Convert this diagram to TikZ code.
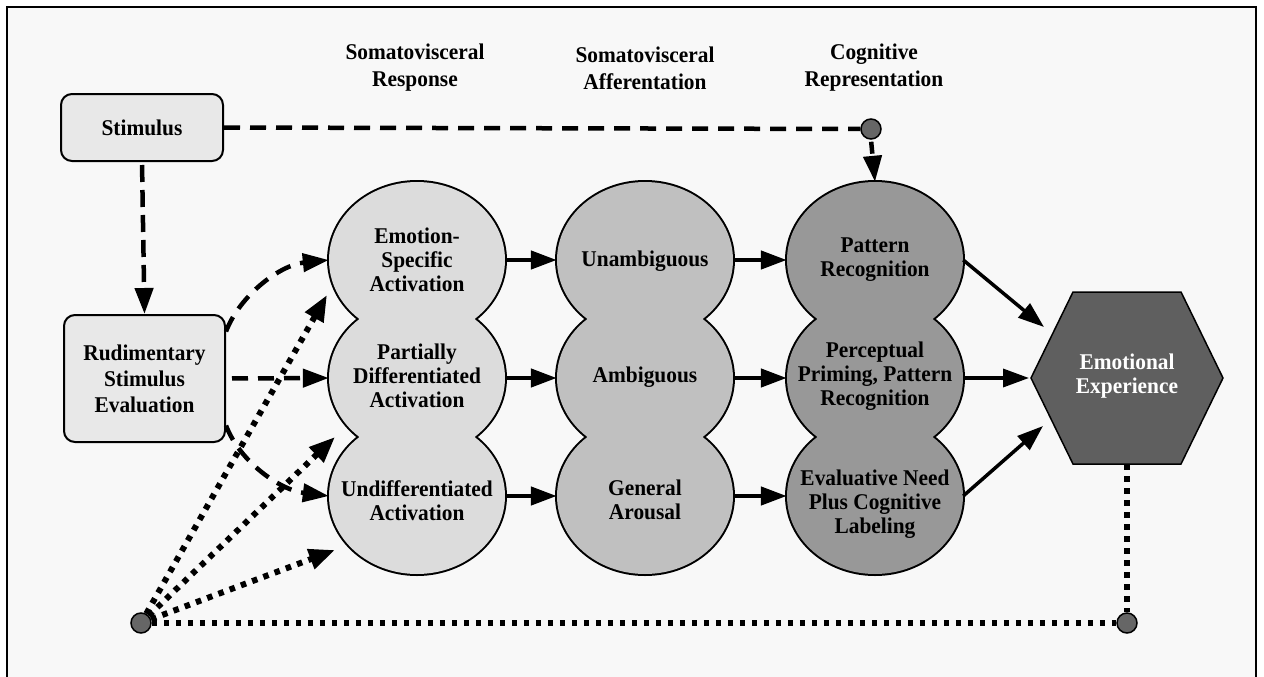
\documentclass[tikz,border=0pt]{standalone}
\usepackage{fontspec}
\setmainfont{Liberation Serif}[FakeStretch=0.95]
\usetikzlibrary{arrows.meta,calc,shapes.geometric}
\definecolor{bgc}{HTML}{F8F8F8}
\definecolor{boxc}{HTML}{E8E8E8}
\definecolor{colA}{HTML}{DCDCDC}
\definecolor{colB}{HTML}{C0C0C0}
\definecolor{colC}{HTML}{989898}
\definecolor{hexc}{HTML}{5F5F5F}
\definecolor{dotc}{HTML}{666666}
\begin{document}
\begin{tikzpicture}[x=1pt,y=-1pt,
  font=\bfseries\fontsize{22.5}{24}\selectfont,
  txt/.style={align=center, inner sep=0pt},
  hdr/.style={align=center, inner sep=0pt, font=\bfseries\fontsize{22.5}{27}\selectfont},
  boxnode/.style={draw, line width=2pt, rounded corners=11pt, fill=boxc, align=center, inner sep=0pt},
  anc/.style={ellipse, minimum width=176pt, minimum height=156pt, inner sep=0pt},
  dotnode/.style={circle, draw, line width=1.5pt, fill=dotc, minimum size=20pt, inner sep=0pt},
  solidarr/.style={line width=4.5pt, -{Triangle[length=26pt,width=18pt]}},
  thinarr/.style={line width=3.5pt, -{Triangle[length=26pt,width=18pt]}},
  dashline/.style={line width=4.5pt, dash pattern=on 16pt off 10pt},
  dasharr/.style={line width=4.5pt, dash pattern=on 16pt off 10pt, -{Triangle[length=26pt,width=18pt]}},
  dotline/.style={line width=6pt, dash pattern=on 5.5pt off 6.5pt},
  dotarr/.style={line width=6pt, dash pattern=on 5.5pt off 6.5pt, -{Triangle[length=26pt,width=20pt]}}
]
\useasboundingbox (0,0) rectangle (1264,677);
\clip (0,0) rectangle (1264,677);
\fill[white] (0,0) rectangle (1264,677);
\draw[line width=2.8pt, fill=bgc] (7,7) rectangle (1256,720);

% headers
\node[hdr] (h1) at (415,68) {Somatovisceral\\Response};
\node[hdr] (h2) at (645,68) {Somatovisceral\\Afferentation};
\node[hdr] (h3) at (874,68) {Cognitive\\Representation};

% blobs: outlines then fills
\foreach \cx in {417,645,875}{
  \foreach \cy in {260,378,496}{
    \draw[line width=4pt] (\cx,\cy) ellipse [x radius=88, y radius=78];
  }
}
\foreach \cy in {260,378,496}{
  \fill[colA] (417,\cy) ellipse [x radius=88, y radius=78];
  \fill[colB] (645,\cy) ellipse [x radius=88, y radius=78];
  \fill[colC] (875,\cy) ellipse [x radius=88, y radius=78];
}
\node[anc] (es) at (417,260) {};
\node[anc] (pd) at (417,378) {};
\node[anc] (ud) at (417,496) {};
\node[anc] (un) at (645,260) {};
\node[anc] (am) at (645,378) {};
\node[anc] (ga) at (645,496) {};
\node[anc] (pr) at (875,260) {};
\node[anc] (pp) at (875,378) {};
\node[anc] (ev) at (875,496) {};

\node[txt] (es-t) at (417,260) {Emotion-\\Specific\\Activation};
\node[txt] (pd-t) at (417,376) {Partially\\Differentiated\\Activation};
\node[txt] (ud-t) at (417,501) {Undifferentiated\\Activation};
\node[txt] (un-t) at (645,261) {Unambiguous};
\node[txt] (am-t) at (645,377) {Ambiguous};
\node[txt] (ga-t) at (645,500) {General\\Arousal};
\node[txt] (pr-t) at (875,260) {Pattern\\Recognition};
\node[txt] (pp-t) at (875,376) {Perceptual\\Priming, Pattern\\Recognition};
\node[txt] (ev-t) at (875,504) {Evaluative Need\\Plus Cognitive\\Labeling};

% hexagon
\fill[hexc, draw=black, line width=1.5pt] (1031,378) -- (1073,292) -- (1181,292) -- (1223,378) -- (1181,464) -- (1073,464) -- cycle;
\coordinate (hexc) at (1127,378);
\coordinate (hexS) at (1127,464);
\node[txt, text=white] (hex) at (1127,376) {Emotional\\Experience};

% boxes
\node[boxnode, minimum width=162pt, minimum height=67pt] (stim) at (142,127.5) {Stimulus};
\node[boxnode, minimum width=161pt, minimum height=127pt, font=\bfseries\fontsize{22.5}{26}\selectfont] (rse) at (144.5,378.5) {Rudimentary\\Stimulus\\Evaluation};

% small circles
\node[dotnode] (c1) at (871,129) {};
\node[dotnode] (c2) at (141,623) {};
\node[dotnode] (c3) at (1127,623) {};

% dashed connectors
\draw[dashline] (stim.east) -- (c1.west);
\draw[dasharr, dash pattern=on 12pt off 6pt, shorten <=2pt] (c1.south) -- (pr.north);
\draw[dasharr, dash pattern=on 17pt off 8pt, shorten <=3pt] (stim.south) -- (rse.north);
\draw[dasharr] (rse.30) .. controls (240,295) and (280,265) .. (es.west);
\draw[dasharr, shorten <=6pt] (rse.east) -- (pd.west);
\draw[dasharr] (rse.-30) .. controls (240,462) and (280,490) .. (ud.west);

% dotted connectors
\coordinate (t1) at (327,295);
\coordinate (t2) at (335,437);
\coordinate (t3) at (335,550);
\draw[dotarr] (c2) -- (t1);
\draw[dotarr] (c2) -- (t2);
\draw[dotarr] (c2) -- (t3);
\draw[dotline] (c2) -- (c3);
\draw[dotline] (hexS) -- (c3);

% solid arrows
\draw[solidarr] (es.east) -- (un.west);
\draw[solidarr] (pd.east) -- (am.west);
\draw[solidarr] (ud.east) -- (ga.west);
\draw[solidarr] (un.east) -- (pr.west);
\draw[solidarr] (am.east) -- (pp.west);
\draw[solidarr] (ga.east) -- (ev.west);
\draw[thinarr] (pr.east) -- ($(hexc)+(-83,-51)$);
\draw[thinarr] (pp.east) -- ($(hexc)+(-98,0)$);
\draw[thinarr] (ev.east) -- ($(hexc)+(-84,48)$);
\end{tikzpicture}
\end{document}
